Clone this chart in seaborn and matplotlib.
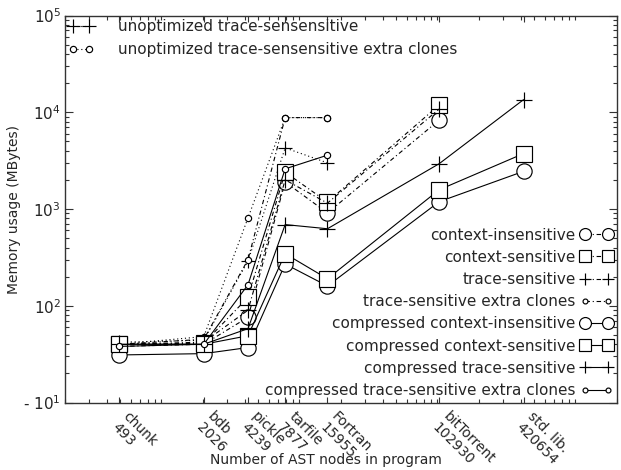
import numpy as np
import pandas as pd
import matplotlib
matplotlib.use("Agg")
import matplotlib.pyplot as plt
import matplotlib.transforms as mtransforms
from matplotlib.ticker import LogLocator, NullFormatter, FixedLocator
import seaborn as sns

# ---- data -------------------------------------------------------------
programs = ["chunk", "bdb", "pickle", "tarfile", "Fortran", "bitTorrent", "std. lib."]
ast_nodes = [493, 2026, 4239, 7877, 15955, 102930, 420654]

nan = np.nan
unopt_trace = [42, 44, 290, 4280, 3000, nan, nan]
unopt_trace_extra = [40, 48, 810, 8800, 8800, nan, nan]
ctx_insens = [38, 40, 76, 1900, 910, 8300, nan]
ctx_sens = [40, 41, 122, 2400, 1180, 11900, nan]
trace_sens = [40, 42, 90, 2000, 1150, 10800, nan]
trace_sens_extra = [40, 45, 300, 8800, 8800, nan, nan]
comp_ctx_insens = [31, 32, 37, 270, 160, 1190, 2450]
comp_ctx_sens = [40, 40, 49, 345, 190, 1580, 3740]
comp_trace_sens = [40, 40, 58, 690, 625, 2940, 13500]
comp_trace_extra = [38, 40, 165, 2600, 3600, nan, nan]

top_labels = ["unoptimized trace-sensensitive",
              "unoptimized trace-sensensitive extra clones"]
bottom_labels = ["context-insensitive", "context-sensitive", "trace-sensitive",
                 "trace-sensitive extra clones", "compressed context-insensitive",
                 "compressed context-sensitive", "compressed trace-sensitive",
                 "compressed trace-sensitive extra clones"]

# ---- style ------------------------------------------------------------
sns.set_style("ticks")
plt.rcParams["font.family"] = ["DejaVu Sans"]
plt.rcParams["mathtext.fontset"] = "dejavusans"

fig = plt.figure(figsize=(6.21, 4.70), dpi=100)
ax = fig.add_axes([65 / 621, 1 - 402.5 / 470, 552 / 621, 387 / 470])
ax.set_xscale("log")
ax.set_yscale("log")

dot = (0, (1, 2.5))
dashdot = (0, (4, 2.5, 1, 2.5))
solid = "-"

series = [
    (unopt_trace, "+", 10, dot),
    (unopt_trace_extra, "o", 4.5, dot),
    (ctx_insens, "o", 11, dashdot),
    (ctx_sens, "s", 11, dashdot),
    (trace_sens, "+", 11, dashdot),
    (trace_sens_extra, "o", 4.5, dashdot),
    (comp_ctx_insens, "o", 11, solid),
    (comp_ctx_sens, "s", 11, solid),
    (comp_trace_sens, "+", 11, solid),
    (comp_trace_extra, "o", 4.5, solid),
]

handles = []
for vals, mk, ms, ls in series:
    df = pd.DataFrame({"x": ast_nodes, "y": vals})
    n0 = len(ax.get_lines())
    sns.lineplot(data=df, x="x", y="y", ax=ax, color="black", linewidth=0.8,
                 linestyle=ls, marker=mk, markersize=ms, markerfacecolor="white",
                 markeredgecolor="black", markeredgewidth=0.85, legend=False)
    handles.append(ax.get_lines()[n0])

ax.set_xlim(200, 2e6)
ax.set_ylim(10, 1e5)

# y ticks
ax.yaxis.set_major_locator(FixedLocator([10, 100, 1000, 1e4, 1e5]))
ax.set_yticklabels(["- $10^{1}$", "$10^{2}$", "$10^{3}$", "$10^{4}$", "$10^{5}$"])
ax.yaxis.set_minor_locator(LogLocator(base=10, subs=np.arange(2, 10)))
ax.yaxis.set_minor_formatter(NullFormatter())

# x ticks
ax.xaxis.set_major_locator(FixedLocator(ast_nodes))
ax.set_xticklabels([f"{p}\n{n}" for p, n in zip(programs, ast_nodes)])
ax.xaxis.set_minor_locator(LogLocator(base=10, subs=np.arange(1, 10)))
ax.xaxis.set_minor_formatter(NullFormatter())

ax.tick_params(axis="both", which="both", direction="in", top=True, right=True,
               color="#333333", width=0.8)
ax.tick_params(axis="y", which="major", length=6, labelsize=11, pad=3)
ax.tick_params(axis="y", which="minor", length=3)
ax.tick_params(axis="x", which="major", length=4, labelsize=10, pad=2)
ax.tick_params(axis="x", which="minor", length=3)

offset = mtransforms.ScaledTranslation(11 / 100, -4 / 100, fig.dpi_scale_trans)
for lab in ax.get_xticklabels():
    lab.set_rotation(-45)
    lab.set_ha("left")
    lab.set_va("top")
    lab.set_rotation_mode("anchor")
    lab.set_linespacing(1.15)
    lab.set_transform(lab.get_transform() + offset)

for sp in ax.spines.values():
    sp.set_color("#333333")
    sp.set_linewidth(1.0)

ax.set_xlabel("Number of AST nodes in program", fontsize=10)
ax.set_ylabel("Memory usage (MBytes)", fontsize=10)
ax.xaxis.set_label_coords((326 - 65) / 552, -0.13)
ax.yaxis.set_label_coords(-0.08, 0.5)

leg1 = ax.legend(handles[:2], top_labels, loc="upper left", frameon=False,
                 fontsize=11, numpoints=2, handlelength=1.6, handletextpad=1.6,
                 labelspacing=0.5, borderaxespad=0.1, borderpad=0.15)
ax.add_artist(leg1)
leg2 = ax.legend(handles[2:], bottom_labels, loc="lower right", frameon=False,
                 fontsize=11, numpoints=2, handlelength=2.1, handletextpad=0.3,
                 labelspacing=0.47, markerfirst=False, markerscale=0.78,
                 borderaxespad=0.1, borderpad=0.2)

fig.savefig("out.png", dpi=100)
